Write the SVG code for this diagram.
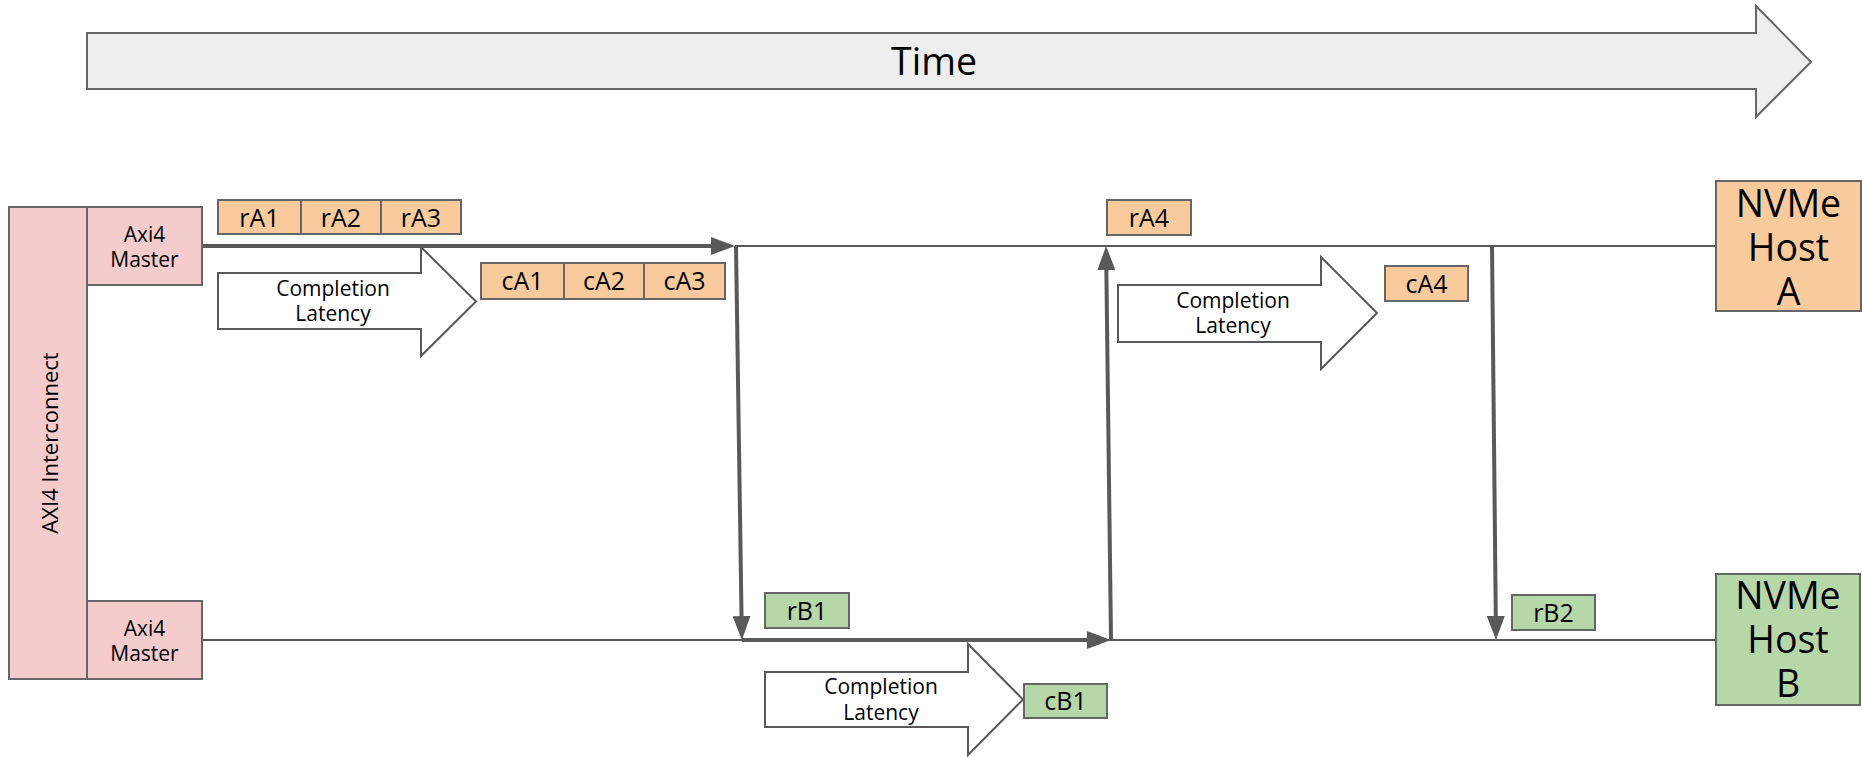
<svg xmlns="http://www.w3.org/2000/svg" width="1862" height="757" viewBox="0 0 1862 757">
  <style>
    text { font-family: "Open Sans", "Liberation Sans", sans-serif; fill: #000; text-anchor: middle; }
    .box { stroke: #666666; stroke-width: 2; }
    .pink { fill: #f4cccc; }
    .orange { fill: #f9cb9c; }
    .green { fill: #b6d7a8; }
    .latency { fill: #ffffff; stroke: #595959; stroke-width: 2; stroke-linejoin: miter; }
    .t21 { font-size: 21px; }
    .t25 { font-size: 25px; }
    .t37 { font-size: 37.5px; }
    .wire { stroke: #595959; fill: none; }
    .thin { stroke-width: 2; }
    .thick { stroke-width: 4; }
  </style>
  <defs>
    <marker id="head" viewBox="0 0 24 18" refX="12" refY="9" markerWidth="24" markerHeight="18" markerUnits="userSpaceOnUse" orient="auto">
      <path d="M0,0 L24,9 L0,18 z" fill="#595959"/>
    </marker>
  </defs>

  <!-- time axis -->
  <g id="time">
    <polygon points="87,33 1756,33 1756,6 1811,62 1756,117 1756,89 87,89" fill="#eeeeee" stroke="#666666" stroke-width="2"/>
    <text class="t37" x="934" y="75">Time</text>
  </g>

  <!-- lanes and transfers -->
  <g id="connectors">
    <line class="wire thin" x1="735" y1="246" x2="1716" y2="246"/>
    <line class="wire thin" x1="202" y1="640" x2="1716" y2="640"/>
    <line class="wire thick" x1="202" y1="246" x2="723" y2="246" marker-end="url(#head)"/>
    <line class="wire thick" x1="736" y1="246" x2="741.7" y2="628" marker-end="url(#head)"/>
    <line class="wire thick" x1="742" y1="640" x2="1099" y2="640" marker-end="url(#head)"/>
    <line class="wire thick" x1="1111" y1="640" x2="1106.2" y2="258" marker-end="url(#head)"/>
    <line class="wire thick" x1="1492" y1="246" x2="1495.9" y2="628" marker-end="url(#head)"/>
  </g>

  <!-- interconnect and masters -->
  <g id="interconnect">
    <rect class="box pink" x="9" y="207" width="78" height="472"/>
    <text transform="translate(58,443) rotate(-90)" style="font-size:22px">AXI4 Interconnect</text>
  </g>
  <g id="master-a">
    <rect class="box pink" x="87" y="207" width="115" height="78"/>
    <text class="t21" x="144.5" y="242">Axi4</text>
    <text class="t21" x="144.5" y="267">Master</text>
  </g>
  <g id="master-b">
    <rect class="box pink" x="87" y="601" width="115" height="78"/>
    <text class="t21" x="144.5" y="636">Axi4</text>
    <text class="t21" x="144.5" y="661">Master</text>
  </g>

  <!-- requests and completions, host A -->
  <g id="rA1">
    <rect class="box orange" x="218" y="200" width="83" height="34"/>
    <text class="t25" x="259.5" y="226.5">rA1</text>
  </g>
  <g id="rA2">
    <rect class="box orange" x="301" y="200" width="80" height="34"/>
    <text class="t25" x="341" y="226.5">rA2</text>
  </g>
  <g id="rA3">
    <rect class="box orange" x="381" y="200" width="80" height="34"/>
    <text class="t25" x="421" y="226.5">rA3</text>
  </g>
  <g id="latency-1">
    <polygon class="latency" points="218,273 421,273 421,247 476,301.5 421,356 421,329 218,329"/>
    <text class="t21" x="333" y="296">Completion</text>
    <text class="t21" x="333" y="321">Latency</text>
  </g>
  <g id="cA1">
    <rect class="box orange" x="481" y="263" width="83" height="36"/>
    <text class="t25" x="522.5" y="290">cA1</text>
  </g>
  <g id="cA2">
    <rect class="box orange" x="564" y="263" width="80" height="36"/>
    <text class="t25" x="604" y="290">cA2</text>
  </g>
  <g id="cA3">
    <rect class="box orange" x="644" y="263" width="81" height="36"/>
    <text class="t25" x="684.5" y="290">cA3</text>
  </g>
  <g id="rA4">
    <rect class="box orange" x="1107" y="200" width="84" height="35"/>
    <text class="t25" x="1149" y="226.5">rA4</text>
  </g>
  <g id="latency-2">
    <polygon class="latency" points="1118,285 1321,285 1321,257 1377,313 1321,369 1321,342 1118,342"/>
    <text class="t21" x="1233" y="308">Completion</text>
    <text class="t21" x="1233" y="333">Latency</text>
  </g>
  <g id="cA4">
    <rect class="box orange" x="1385" y="266" width="83" height="35"/>
    <text class="t25" x="1426.5" y="292.5">cA4</text>
  </g>

  <!-- requests and completions, host B -->
  <g id="rB1">
    <rect class="box green" x="765" y="593" width="84" height="35"/>
    <text class="t25" x="807" y="619.5">rB1</text>
  </g>
  <g id="latency-3">
    <polygon class="latency" points="765,672 968,672 968,644 1023,699.5 968,755 968,727 765,727"/>
    <text class="t21" x="881" y="694">Completion</text>
    <text class="t21" x="881" y="720">Latency</text>
  </g>
  <g id="cB1">
    <rect class="box green" x="1024" y="684" width="83" height="34"/>
    <text class="t25" x="1065.5" y="710">cB1</text>
  </g>
  <g id="rB2">
    <rect class="box green" x="1512" y="595" width="83" height="35"/>
    <text class="t25" x="1553.5" y="621.5">rB2</text>
  </g>

  <!-- hosts -->
  <g id="host-a">
    <rect class="box orange" x="1716" y="181" width="145" height="130"/>
    <text class="t37" x="1788.5" y="217">NVMe</text>
    <text class="t37" x="1788.5" y="261">Host</text>
    <text class="t37" x="1788.5" y="305">A</text>
  </g>
  <g id="host-b">
    <rect class="box green" x="1716" y="574" width="144" height="131"/>
    <text class="t37" x="1788" y="609">NVMe</text>
    <text class="t37" x="1788" y="653">Host</text>
    <text class="t37" x="1788" y="697">B</text>
  </g>
</svg>
